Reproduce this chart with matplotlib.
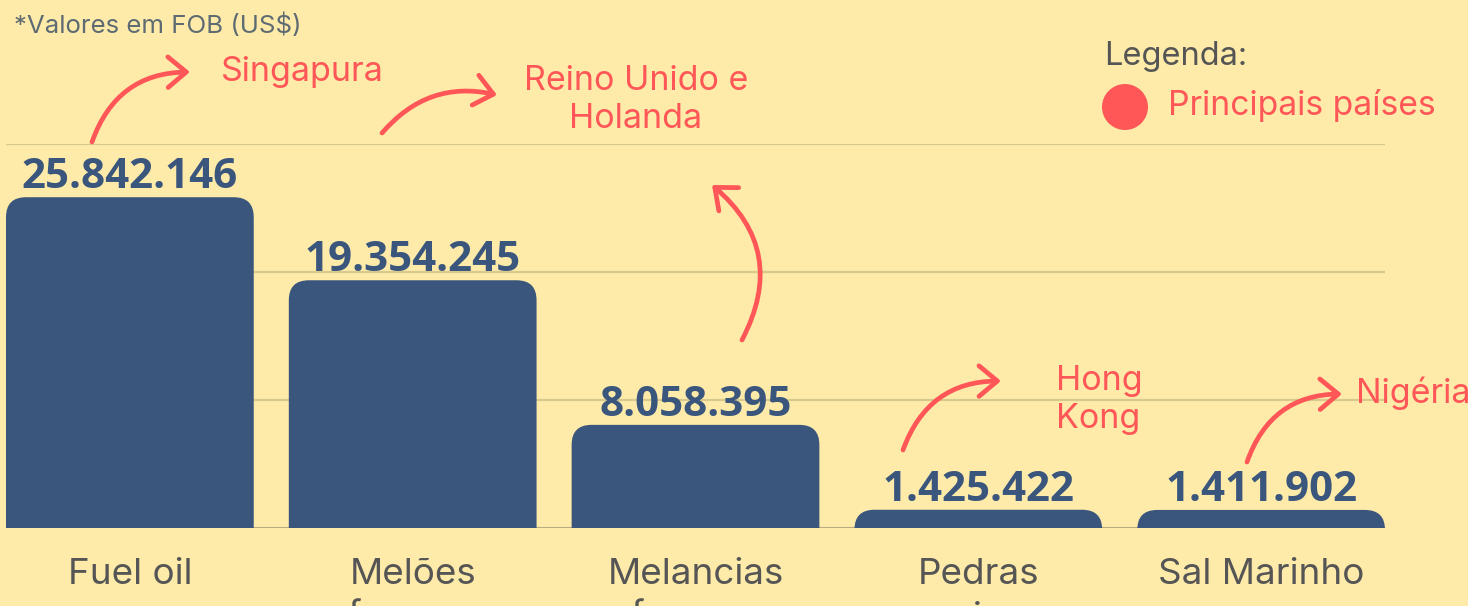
import numpy as np
import matplotlib
matplotlib.use("Agg")
import matplotlib.pyplot as plt
from matplotlib.patches import FancyBboxPatch, Circle

# data
categorias = ["Fuel oil", "Melões\nfrescos", "Melancias\nfrescas", "Pedras\npreciosas", "Sal Marinho"]
valores = [25842146, 19354245, 8058395, 1425422, 1411902]
rotulos = ["25.842.146", "19.354.245", "8.058.395", "1.425.422", "1.411.902"]
paises = ["Singapura", "Reino Unido e\nHolanda", "", "Hong\nKong", "Nigéria"]

W, H = 1468, 606
BG = "#FEEBA9"
AZUL = "#3A567D"
VERMELHO = "#FF5757"
CINZA = "#555555"

plt.rcParams["font.family"] = ["Inter", "DejaVu Sans"]

fig = plt.figure(figsize=(W / 100, H / 100), dpi=100, facecolor=BG)

# axes placed in pixel terms: x 6..1385, y baseline 528, 30M at 144
ax = fig.add_axes([6 / W, (H - 528) / H, (1385 - 6) / W, (528 - 144) / H])
ax.set_facecolor(BG)
x = np.arange(len(valores))
largura = 0.876
ax.set_xlim(-largura / 2, len(valores) - 1 + largura / 2)
ax.set_ylim(0, 30e6)

for s in ax.spines.values():
    s.set_visible(False)
ax.set_yticks([10e6, 20e6, 30e6])
ax.yaxis.grid(True, color="#D8C98E", lw=1.6)
ax.set_axisbelow(True)
ax.tick_params(axis="y", left=False, labelleft=False)
ax.axhline(0, color="#B9AC80", lw=1.5, zorder=1)

# rounded bars: radius in pixels converted to data units
px_x = (len(valores) - 1 + largura) / (1385 - 6)
px_y = 30e6 / (528 - 144)
raio = 20
for xi, v in zip(x, valores):
    caixa = FancyBboxPatch((xi - largura / 2 + raio * px_x, -40 * px_y),
                           largura - 2 * raio * px_x, v + 40 * px_y - raio * px_y,
                           boxstyle=f"round,pad={raio * px_x}",
                           mutation_aspect=px_y / px_x,
                           fc=AZUL, ec="none", zorder=2)
    ax.add_patch(caixa)

for xi, v, r in zip(x, valores, rotulos):
    ax.annotate(r, (xi, v), xytext=(0, 6.5), textcoords="offset points",
                ha="center", va="baseline", fontsize=30.3, fontweight="bold",
                color=AZUL, family=["Open Sans", "DejaVu Sans"])

ax.set_xticks(x)
ax.set_xticklabels(categorias, fontsize=26.5, color=CINZA, linespacing=1.36)
ax.tick_params(axis="x", bottom=False, pad=18)


def fp(px, py):
    return (px, H - py)


fig.text(14 / W, 1 - 26 / H, "*Valores em FOB (US$)", fontsize=18.6,
         color="#5E6B72", ha="left", va="center")

# arrows (pixel positions, top-down)
setas = [((92, 142), (190, 72), -0.35),
         ((382, 133), (497, 95), -0.3),
         ((742, 340), (712, 185), 0.4),
         ((903, 450), (1001, 381), -0.35),
         ((1247, 462), (1342, 394), -0.35)]
for ini, fim, rad in setas:
    ax.annotate("", xy=fp(*fim), xycoords="figure pixels",
                xytext=fp(*ini), textcoords="figure pixels",
                arrowprops=dict(arrowstyle="->,head_length=0.6,head_width=0.5",
                                connectionstyle=f"arc3,rad={rad}",
                                color=VERMELHO, lw=3.4, shrinkA=0, shrinkB=0,
                                mutation_scale=22, capstyle="round"),
                annotation_clip=False)

fig.text(221 / W, 1 - 72 / H, paises[0], fontsize=24.5, color=VERMELHO,
         ha="left", va="center")
fig.text(636 / W, 1 - 100 / H, paises[1], fontsize=24.5, color=VERMELHO,
         ha="center", va="center", linespacing=1.22)
fig.text(1056 / W, 1 - 400 / H, paises[3], fontsize=24.5, color=VERMELHO,
         ha="left", va="center", linespacing=1.22)
fig.text(1356 / W, 1 - 393 / H, paises[4], fontsize=24.5, color=VERMELHO,
         ha="left", va="center")

# legend
fig.text(1104 / W, 1 - 57 / H, "Legenda:", fontsize=23.5, color=CINZA,
         ha="left", va="center")
fig.patches.append(Circle((1125, H - 107), 23, transform=None,
                          fc=VERMELHO, ec="none"))
fig.text(1168 / W, 1 - 106 / H, "Principais países", fontsize=24.2,
         color=VERMELHO, ha="left", va="center")

fig.savefig("out.png", dpi=100, facecolor=BG)
